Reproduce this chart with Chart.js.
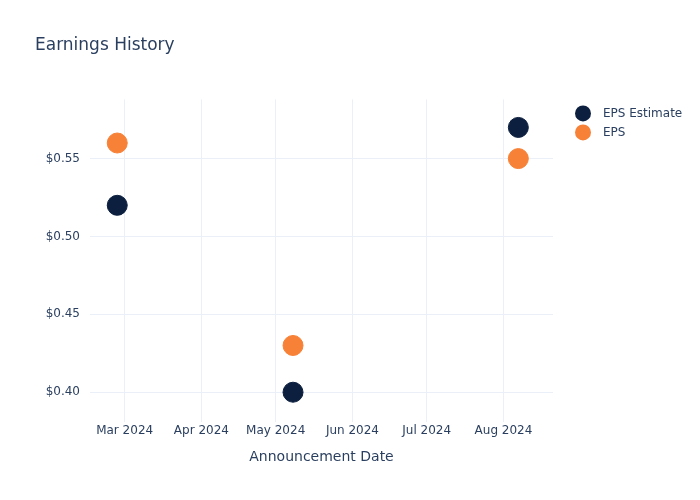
<!DOCTYPE html>
<html>
<head>
<meta charset="utf-8">
<script src="https://cdn.jsdelivr.net/npm/chart.js@4.4.1/dist/chart.umd.min.js"></script>
<style>
  html, body { margin: 0; padding: 0; background: #fff; }
  #wrap { width: 700px; height: 500px; }
</style>
</head>
<body>
<div id="wrap"><canvas id="earningsChart" width="700" height="500"></canvas></div>
<script>
// Earnings history data
const announceDates = ['2024-02-27', '2024-05-08', '2024-08-07'];
const epsEstimate = [0.52, 0.40, 0.57];
const epsActual = [0.56, 0.43, 0.55];
const yTicks = [0.40, 0.45, 0.50, 0.55];
const monthTicks = ['2024-03-01', '2024-04-01', '2024-05-01', '2024-06-01', '2024-07-01', '2024-08-01'];
const MONTHS = ['Jan', 'Feb', 'Mar', 'Apr', 'May', 'Jun', 'Jul', 'Aug', 'Sep', 'Oct', 'Nov', 'Dec'];

const toTime = s => Date.parse(s + 'T00:00:00Z');
const fontFamily = '"DejaVu Sans", Verdana, sans-serif';
const textColor = '#2a3f5f';
const gridColor = '#ebf0f8';

function points(values) {
    return announceDates.map((d, i) => ({ x: toTime(d), y: values[i] }));
}

// plotly-like legend to the right of the plot area
const sideLegend = {
    id: 'sideLegend',
    afterDraw(chart) {
        const { ctx, chartArea } = chart;
        ctx.save();
        ctx.font = '12px ' + fontFamily;
        ctx.textBaseline = 'middle';
        chart.data.datasets.forEach((ds, i) => {
            const y = chartArea.top + 14 + i * 19;
            ctx.beginPath();
            ctx.arc(chartArea.right + 30, y, 8, 0, Math.PI * 2);
            ctx.fillStyle = ds.backgroundColor;
            ctx.fill();
            ctx.fillStyle = textColor;
            ctx.fillText(ds.label, chartArea.right + 50, y);
        });
        ctx.restore();
    }
};

const ctx = document.getElementById('earningsChart');

new Chart(ctx, {
    type: 'scatter',
    data: {
        datasets: [{
            label: 'EPS Estimate',
            data: points(epsEstimate),
            backgroundColor: '#0c1f3f',
            borderColor: '#0c1f3f',
            pointRadius: 10,
            pointHoverRadius: 10,
        }, {
            label: 'EPS',
            data: points(epsActual),
            backgroundColor: '#f78137',
            borderColor: '#f78137',
            pointRadius: 10,
            pointHoverRadius: 10,
        }]
    },
    options: {
        responsive: false,
        animation: false,
        layout: {
            padding: { left: 35, right: 147, top: 0, bottom: 34 }
        },
        plugins: {
            title: {
                display: true,
                text: 'Earnings History',
                align: 'start',
                color: textColor,
                font: { family: fontFamily, size: 17, weight: 'normal' },
                padding: { top: 35, bottom: 44 }
            },
            legend: { display: false },
            tooltip: { enabled: false }
        },
        scales: {
            x: {
                type: 'linear',
                min: toTime('2024-02-16'),
                max: toTime('2024-08-21'),
                afterBuildTicks: function(scale) {
                    scale.ticks = monthTicks.map(m => ({ value: toTime(m) }));
                },
                ticks: {
                    color: textColor,
                    font: { family: fontFamily, size: 12 },
                    padding: 2,
                    maxRotation: 0,
                    autoSkip: false,
                    callback: function(value) {
                        const d = new Date(value);
                        return MONTHS[d.getUTCMonth()] + ' ' + d.getUTCFullYear();
                    }
                },
                grid: {
                    color: gridColor,
                    drawTicks: false
                },
                border: { display: false },
                title: {
                    display: true,
                    text: 'Announcement Date',
                    color: textColor,
                    font: { family: fontFamily, size: 14 },
                    padding: { top: 9, bottom: 0 }
                }
            },
            y: {
                min: 0.381,
                max: 0.588,
                afterBuildTicks: function(scale) {
                    scale.ticks = yTicks.map(v => ({ value: v }));
                },
                afterFit: function(scale) {
                    scale.width = 55;
                },
                ticks: {
                    color: textColor,
                    font: { family: fontFamily, size: 12 },
                    padding: 10,
                    callback: function(value) {
                        return '$' + value.toFixed(2);
                    }
                },
                grid: {
                    color: gridColor,
                    drawTicks: false
                },
                border: { display: false }
            }
        }
    },
    plugins: [sideLegend]
});
</script>
</body>
</html>
